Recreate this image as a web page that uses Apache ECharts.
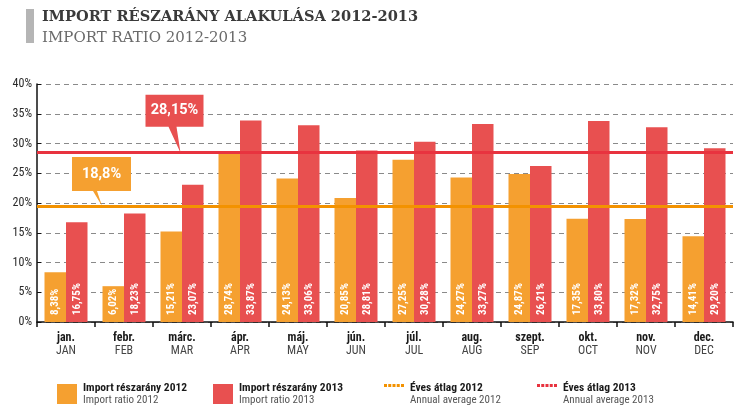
<!DOCTYPE html>
<html><head><meta charset="utf-8">
<script src="https://cdn.jsdelivr.net/npm/echarts@6/dist/echarts.min.js"></script>
<style>html,body{margin:0;padding:0;background:#fff}#c{width:755px;height:416px}</style>
</head><body><div id="c"></div>
<script>
const monthsHu = ['jan.','febr.','márc.','ápr.','máj.','jún.','júl.','aug.','szept.','okt.','nov.','dec.'];
const monthsEn = ['JAN','FEB','MAR','APR','MAY','JUN','JUL','AUG','SEP','OCT','NOV','DEC'];
const ratio2012 = [8.38,6.02,15.21,28.74,24.13,20.85,27.25,24.27,24.87,17.35,17.32,14.41];
const ratio2013 = [16.75,18.23,23.07,33.87,33.06,28.81,30.28,33.27,26.21,33.80,32.75,29.20];
const avgLine2012 = 19.5;
const avgLine2013 = 28.45;
const avgLabel2012 = '18,8%';
const avgLabel2013 = '28,15%';
const yMax = 40, yStep = 5;

const seriesNames = ['Import részarány 2012','Import részarány 2013','Éves átlag 2012','Éves átlag 2013'];
const seriesSubs = ['Import ratio 2012','Import ratio 2013','Annual average 2012','Annual average 2013'];

const C12 = '#f5a030', C13 = '#e85050', L12 = '#f39200', L13 = '#e8333f';
const NARROW = '"Roboto Condensed","Open Sans Condensed","DejaVu Sans Condensed",sans-serif';

const chart = echarts.init(document.getElementById('c'));
const fmtPct = v => v.toFixed(2).replace('.', ',') + '%';

const barLabel = {
  show: true, position: 'insideBottom', distance: 7, rotate: 90,
  align: 'left', verticalAlign: 'middle',
  color: '#fff', fontFamily: NARROW, fontWeight: 'bold', fontSize: 11,
  formatter: p => fmtPct(p.value)
};

const dashIcon = 'path://M0,0h3v3h-3z M4.25,0h3v3h-3z M8.5,0h3v3h-3z M12.75,0h3v3h-3z M17,0h3v3h-3z M0,20h0.01v0.01h-0.01z';

function legendFor(i, left, icon, color) {
  return {
    left: left, top: 382, itemWidth: 20, itemHeight: 20, itemGap: 0,
    selectedMode: false, padding: 0,
    data: [{ name: seriesNames[i], icon: icon, itemStyle: { color: color, borderWidth: 0 } }],
    formatter: n => '{a|' + n + '}\n{b|' + seriesSubs[i] + '}',
    textStyle: {
      padding: [0, 0, 0, 1],
      rich: {
        a: { fontFamily: NARROW, fontWeight: 'bold', fontSize: 11.5, color: '#1a1a1a', lineHeight: 12 },
        b: { fontFamily: NARROW, fontSize: 11, color: '#555', lineHeight: 12 }
      }
    }
  };
}

// callout shapes (box + tail), tip at bottom
const calloutRed = 'path://M0,0H58V32H31L35,58L23,32H0Z';
const calloutOrange = 'path://M0,0H59V34H25L30,49L21,34H0Z';

chart.setOption({
  animation: false,
  title: {
    text: 'IMPORT RÉSZARÁNY ALAKULÁSA 2012-2013',
    subtext: 'IMPORT RATIO 2012-2013',
    left: 42, top: 10, itemGap: 6, padding: 0,
    textStyle: { fontFamily: '"DejaVu Serif",serif', fontWeight: 'bold', fontSize: 14.6, color: '#3a3a3a' },
    subtextStyle: { fontFamily: '"DejaVu Serif",serif', fontWeight: 'normal', fontSize: 15, color: '#6a6a6a' }
  },
  graphic: [{ type: 'rect', shape: { x: 26, y: 9, width: 8, height: 34 }, style: { fill: '#b5b5b5' } }],
  legend: [
    legendFor(0, 57, 'rect', C12),
    legendFor(1, 213, 'rect', C13),
    legendFor(2, 384, dashIcon, L12),
    legendFor(3, 537, dashIcon, L13)
  ],
  grid: { left: 37, right: 22, top: 84, bottom: 94 },
  xAxis: {
    type: 'category', data: monthsHu,
    axisLine: { lineStyle: { color: '#111', width: 1.5 } },
    axisTick: { show: true, length: 5, lineStyle: { color: '#111', width: 1.5 } },
    axisLabel: {
      margin: 9, interval: 0,
      formatter: (v, i) => '{a|' + v + '}\n{b|' + monthsEn[i] + '}',
      rich: {
        a: { fontFamily: NARROW, fontWeight: 'bold', fontSize: 12, color: '#1a1a1a', lineHeight: 13 },
        b: { fontFamily: NARROW, fontSize: 12, color: '#444', lineHeight: 13 }
      }
    }
  },
  yAxis: {
    type: 'value', min: 0, max: yMax, interval: yStep,
    axisLine: { show: true, lineStyle: { color: '#111', width: 1.5 } },
    axisTick: { show: true, inside: true, length: 4, lineStyle: { color: '#111' } },
    axisLabel: { margin: 5, formatter: '{value}%', fontFamily: NARROW, fontSize: 12, color: '#2a2a2a' },
    splitLine: { lineStyle: { color: '#8a8a8a', type: [5, 4], width: 1 } }
  },
  series: [
    { name: seriesNames[0], type: 'bar', data: ratio2012, barWidth: 21.5, barGap: '0%',
      itemStyle: { color: C12 }, label: barLabel },
    { name: seriesNames[1], type: 'bar', data: ratio2013, barWidth: 21.5, barGap: '0%',
      itemStyle: { color: C13 }, label: barLabel },
    { name: seriesNames[2], type: 'line', data: [], color: L12, z: 5,
      markLine: { silent: true, symbol: 'none', label: { show: false },
        lineStyle: { color: L12, type: 'solid', width: 3 }, data: [{ yAxis: avgLine2012 }] },
      markPoint: { silent: true, data: [{
        coord: [monthsHu[1], avgLine2012], symbol: calloutOrange, symbolSize: [59, 49],
        symbolOffset: [-22.5, -24.5], itemStyle: { color: C12 },
        label: { show: true, position: 'inside', offset: [0, -7.5], formatter: avgLabel2012,
          color: '#fff', fontFamily: '"Roboto","Liberation Sans",sans-serif', fontWeight: 'bold', fontSize: 14.5 }
      }] } },
    { name: seriesNames[3], type: 'line', data: [], color: L13, z: 5,
      markLine: { silent: true, symbol: 'none', label: { show: false },
        lineStyle: { color: L13, type: 'solid', width: 3 }, data: [{ yAxis: avgLine2013 }] },
      markPoint: { silent: true, data: [{
        coord: [monthsHu[2], avgLine2013], symbol: calloutRed, symbolSize: [58, 58],
        symbolOffset: [-7.5, -29], itemStyle: { color: C13 },
        label: { show: true, position: 'inside', offset: [0, -13], formatter: avgLabel2013,
          color: '#fff', fontFamily: '"Roboto","Liberation Sans",sans-serif', fontWeight: 'bold', fontSize: 14.5 }
      }] } }
  ]
});
</script></body></html>
